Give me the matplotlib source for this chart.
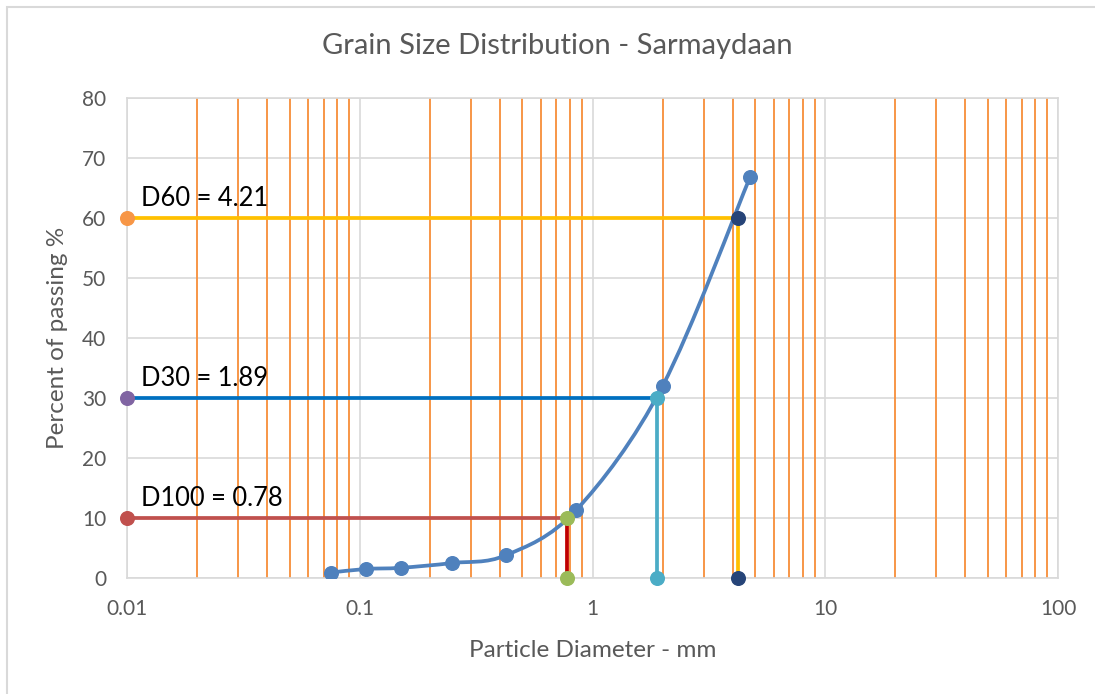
import matplotlib
matplotlib.use('Agg')
import matplotlib.pyplot as plt
import numpy as np
from matplotlib.path import Path
from matplotlib.patches import PathPatch, Rectangle

plt.rcParams['font.family'] = ['Lato', 'DejaVu Sans']

# sieve analysis data
sieve_mm = [0.075, 0.106, 0.15, 0.25, 0.425, 0.85, 2.0, 4.75]
passing = [0.9, 1.5, 1.7, 2.5, 3.8, 11.3, 32.0, 66.8]

# characteristic diameters
d_names = ['D60', 'D30', 'D100']
d_percent = [60, 30, 10]
d_values = [4.21, 1.89, 0.78]
h_colors = ['#FFC000', '#0070C0', '#C0504D']      # horizontal lines
v_colors = ['#FFC000', '#4BACC6', '#C00000']      # vertical lines
start_colors = ['#F79646', '#8064A2', '#C0504D']  # marker at x = 0.01
end_colors = ['#264478', '#4BACC6', '#9BBB59']    # markers on the curve / axis

x_ticks = [0.01, 0.1, 1, 10, 100]
x_tick_labels = ['0.01', '0.1', '1', '10', '100']
y_ticks = [0, 10, 20, 30, 40, 50, 60, 70, 80]

blue = '#4F81BD'
orange = '#F79646'
grid = '#D9D9D9'
text_gray = '#595959'


def smooth_path(xs, ys):
    """Excel-like smoothed line: bezier segments built in (log x, y) space."""
    pts = np.column_stack([np.log10(xs), ys])
    n = len(pts)
    verts = [pts[0]]
    codes = [Path.MOVETO]
    for i in range(n - 1):
        p0 = pts[max(i - 1, 0)]
        p1 = pts[i]
        p2 = pts[i + 1]
        p3 = pts[min(i + 2, n - 1)]
        c1 = p1 + (p2 - p0) / 6.0
        c2 = p2 - (p3 - p1) / 6.0
        verts += [c1, c2, p2]
        codes += [Path.CURVE4] * 3
    verts = np.array(verts)
    verts[:, 0] = 10 ** verts[:, 0]
    return Path(verts, codes)


fig = plt.figure(figsize=(10.95, 6.94), dpi=100)
ax = fig.add_axes([127 / 1095, 1 - 578 / 694, (1058 - 127) / 1095, (578 - 98) / 694])
ax.set_xscale('log')
ax.set_xlim(0.01, 100)
ax.set_ylim(0, 80)

# grid
for y in y_ticks:
    ax.axhline(y, color=grid, lw=1.2, zorder=0)
for x in x_ticks:
    ax.axvline(x, color=grid, lw=1.2, zorder=0)

# orange lines at every minor decade step
minor = [m * 10.0 ** e for e in range(-2, 2) for m in range(2, 10)]
ax.vlines(minor, 0, 80, color=orange, lw=1.4, zorder=1)

# D lines
for name, p, d, hc, vc in zip(d_names, d_percent, d_values, h_colors, v_colors):
    ax.plot([0.01, d], [p, p], color=hc, lw=2.7, zorder=2, solid_capstyle='butt')
    ax.plot([d, d], [0, p], color=vc, lw=2.7, zorder=2, solid_capstyle='butt')
    ax.text(0.0115, p + 1.2, f'{name} = {d}', fontsize=18.4, color='black',
            ha='left', va='bottom', zorder=6)

# grading curve
ax.add_patch(PathPatch(smooth_path(sieve_mm, passing), fill=False,
                       edgecolor=blue, lw=2.7, zorder=3))
ax.plot(sieve_mm, passing, 'o', color=blue, ms=9.8, zorder=4)

# D markers
for p, d, sc, ec in zip(d_percent, d_values, start_colors, end_colors):
    ax.plot([0.01], [p], 'o', color=sc, ms=9.8, zorder=5, clip_on=False)
    ax.plot([d, d], [p, 0], 'o', color=ec, ms=9.8, zorder=5, clip_on=False)

ax.set_xticks(x_ticks)
ax.set_xticklabels(x_tick_labels)
ax.xaxis.set_minor_locator(matplotlib.ticker.NullLocator())
ax.set_yticks(y_ticks)
ax.tick_params(length=0, labelsize=15, colors=text_gray)
ax.tick_params(axis='x', pad=15)
ax.tick_params(axis='y', pad=15)
for s in ax.spines.values():
    s.set_color(grid)
    s.set_linewidth(1.2)

ax.set_xlabel('Particle Diameter - mm', fontsize=17.5, color=text_gray, labelpad=15)
ax.set_ylabel('Percent of passing %', fontsize=17.5, color=text_gray, labelpad=10)

fig.text(0.509, 0.933, 'Grain Size Distribution - Sarmaydaan', fontsize=21,
         color=text_gray, ha='center', va='center')

# chart area border
fig.patches.append(Rectangle((6.5 / 1095, -0.1), 1.2, 1.1 - 6.5 / 694,
                             transform=fig.transFigure, fill=False,
                             edgecolor=grid, lw=1.5))

fig.savefig('out.png', dpi=100)
